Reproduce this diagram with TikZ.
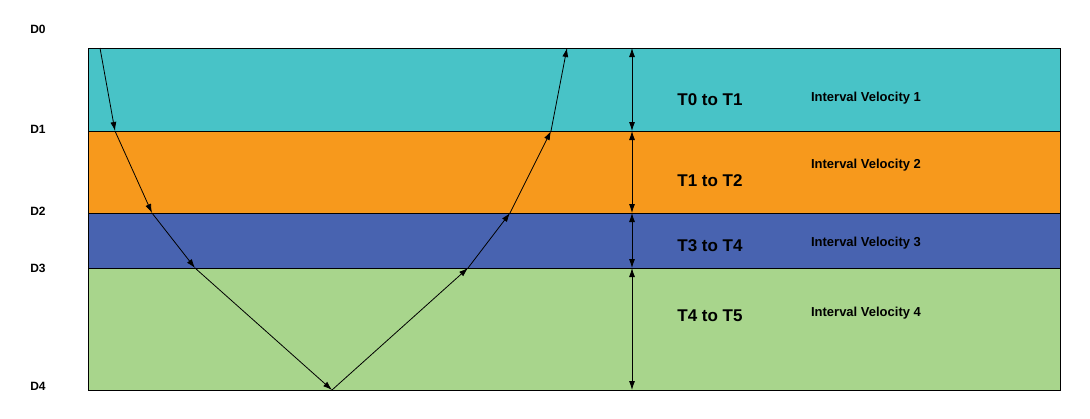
\documentclass[tikz,border=0pt]{standalone}
\usepackage{fontspec}
\setmainfont{Liberation Sans}
\usetikzlibrary{arrows.meta}
\definecolor{cA}{HTML}{48C3C7}
\definecolor{cB}{HTML}{F7991C}
\definecolor{cC}{HTML}{4863B0}
\definecolor{cD}{HTML}{A8D58C}
\begin{document}
\begin{tikzpicture}[x=1pt,y=-1pt,
  lay/.style={draw=black,line width=0.8pt},
  ray/.style={-{Latex[length=9pt,width=6pt]},line width=0.8pt},
  dbl/.style={{Latex[length=9pt,width=6pt]}-{Latex[length=9pt,width=6pt]},line width=0.8pt},
  dl/.style={font=\bfseries\fontsize{12}{14}\selectfont},
  tl/.style={font=\bfseries\fontsize{17}{20}\selectfont},
  vl/.style={font=\bfseries\fontsize{13}{15}\selectfont}]
\useasboundingbox (0,0) rectangle (1090,418);
\fill[cA] (88,48) rectangle (1060,131);
\fill[cB] (88,131) rectangle (1060,213);
\fill[cC] (88,213) rectangle (1060,268);
\fill[cD] (88,268) rectangle (1060,390);
\draw[lay] (88,48) rectangle (1060,390);
\draw[lay] (88,131) -- (1060,131);
\draw[lay] (88,213) -- (1060,213);
\draw[lay] (88,268) -- (1060,268);
\coordinate (p0) at (100,48);
\coordinate (p1) at (115,131);
\coordinate (p2) at (152,213);
\coordinate (p3) at (195,268);
\coordinate (p4) at (332,390);
\coordinate (p5) at (468,268);
\coordinate (p6) at (510,213);
\coordinate (p7) at (551,131);
\coordinate (p8) at (567,48);
\draw[ray] (p0) -- (p1);
\draw[ray] (p1) -- (p2);
\draw[ray] (p2) -- (p3);
\draw[ray] (p3) -- (p4);
\draw[ray] (p4) -- (p5);
\draw[ray] (p5) -- (p6);
\draw[ray] (p6) -- (p7);
\draw[ray] (p7) -- (p8);
\coordinate (q0) at (632,48);
\coordinate (q1) at (632,131);
\coordinate (q2) at (632,213);
\coordinate (q3) at (632,268);
\coordinate (q4) at (632,390);
\draw[dbl] (q0) -- (q1);
\draw[dbl] (q1) -- (q2);
\draw[dbl] (q2) -- (q3);
\draw[dbl] (q3) -- (q4);
\node[dl] (d0) at (38,29) {D0};
\node[dl] (d1) at (38,129) {D1};
\node[dl] (d2) at (38,211) {D2};
\node[dl] (d3) at (38,268) {D3};
\node[dl] (d4) at (38,386) {D4};
\node[tl] (t1) at (710,100) {T0 to T1};
\node[tl] (t2) at (710,181) {T1 to T2};
\node[tl] (t3) at (710,246) {T3 to T4};
\node[tl] (t4) at (710,316) {T4 to T5};
\node[vl] (v1) at (866,98) {Interval Velocity 1};
\node[vl] (v2) at (866,165) {Interval Velocity 2};
\node[vl] (v3) at (866,243) {Interval Velocity 3};
\node[vl] (v4) at (866,313) {Interval Velocity 4};
\end{tikzpicture}
\end{document}
